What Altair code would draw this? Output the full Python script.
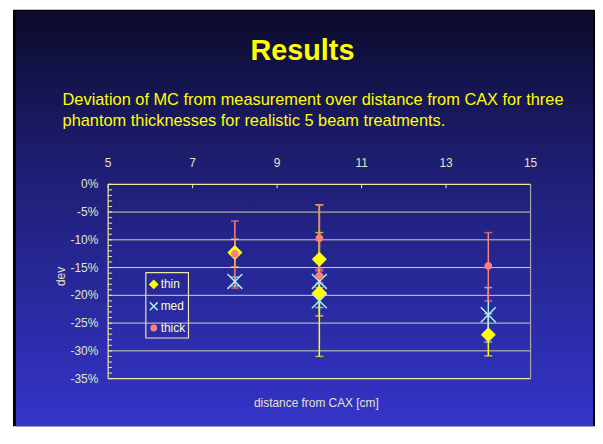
import altair as alt
import pandas as pd

# ---------------- data ----------------
series = ["thin", "med", "thick"]

thin_x = [8, 10, 10, 14]
thin_y = [-12.3, -13.5, -19.6, -27.1]
thin_lo = [-14.9, -23.7, -31.0, -30.9]
thin_hi = [-9.9, -3.7, -8.7, -23.3]

med_x = [8, 10, 10, 14]
med_y = [-17.5, -17.5, -21.0, -23.5]
med_lo = [-18.3, -18.6, -22.2, -28.4]
med_hi = [-16.7, -16.4, -19.8, -18.6]

thick_x = [8, 10, 10, 14]
thick_y = [-12.5, -9.7, -16.5, -14.7]
thick_lo = [-18.7, -15.3, -17.8, -21.0]
thick_hi = [-6.6, -3.7, -15.6, -8.7]

x_ticks = [5, 7, 9, 11, 13, 15]
y_ticks = [0, -5, -10, -15, -20, -25, -30, -35]
y_minor = [0, -1, -2, -3, -4, -5, -6, -7, -8, -9, -10, -11, -12, -13, -14, -15,
           -16, -17, -18, -19, -20, -21, -22, -23, -24, -25, -26, -27, -28, -29,
           -30, -31, -32, -33, -34, -35]
x_range = [5, 15]
y_range = [-35, 0]

title_text = "Results"
subtitle_lines = ["Deviation of MC from measurement over distance from CAX for three",
                  "phantom thicknesses for realistic 5 beam treatments."]
x_title = "distance from CAX [cm]"
y_title = "dev"

# ---------------- styles ----------------
FONT = "Liberation Sans"
AX_COL = "#e4e4c8"
LINE_COL = "#eeee9c"
GRID_COL = "#d6d6aa"
COLORS = {"thin": "#ffff00", "med": "#a8f2f2", "thick": "#ff7f7f"}
X_PATH = "M-1,-1L1,1M1,-1L-1,1"

xs = alt.Scale(domain=x_range, nice=False, zero=False)
ys = alt.Scale(domain=y_range, nice=False, zero=False)
shape_scale = alt.Scale(domain=series, range=["diamond", X_PATH, "circle"])
fill_scale = alt.Scale(domain=series, range=[COLORS["thin"], "transparent", COLORS["thick"]])
stroke_scale = alt.Scale(domain=series, range=[COLORS["thin"], COLORS["med"], COLORS["thick"]])

one = alt.Data(values=[{}])

bg_black = alt.Chart(one).mark_rect(color="black").encode(
    x=alt.value(-96), x2=alt.value(491), y=alt.value(-176), y2=alt.value(244))

bg_grad = alt.Chart(one).mark_rect(
    fill=alt.Gradient(gradient="linear", x1=0, y1=0, x2=0, y2=1,
                      stops=[alt.GradientStop(color="#0b0b2c", offset=0),
                             alt.GradientStop(color="#1d1d6e", offset=0.35),
                             alt.GradientStop(color="#3434ca", offset=1)])
).encode(x=alt.value(-93), x2=alt.value(489), y=alt.value(-175), y2=alt.value(244))

grid = alt.Chart(pd.DataFrame({"v": y_ticks[1:-1]})).mark_rule(color=GRID_COL, strokeWidth=1).encode(
    y=alt.Y("v:Q", scale=ys, axis=None))

hframe = alt.Chart(pd.DataFrame({"v": y_range})).mark_rule(color=LINE_COL, strokeWidth=1.2).encode(
    y=alt.Y("v:Q", scale=ys, axis=None))

left_edge = alt.Chart(pd.DataFrame({"v": x_range[:1]})).mark_rule(color=LINE_COL, strokeWidth=1.2).encode(
    x=alt.X("v:Q", scale=xs, axis=None))

right_edge = alt.Chart(pd.DataFrame({"v": x_range[1:]})).mark_rule(color="#a8a8a8", strokeWidth=1.2).encode(
    x=alt.X("v:Q", scale=xs, axis=None))

minor = alt.Chart(pd.DataFrame({"v": y_minor})).mark_rule(color=LINE_COL, strokeWidth=1).encode(
    y=alt.Y("v:Q", scale=ys, axis=None), x=alt.value(0), x2=alt.value(4))

xt = alt.Chart(pd.DataFrame({"v": x_ticks})).mark_rule(color=LINE_COL, strokeWidth=1).encode(
    x=alt.X("v:Q", scale=xs, axis=None), y=alt.value(0), y2=alt.value(4))

ylabels = alt.Chart(pd.DataFrame({"v": y_ticks})).transform_calculate(
    label="datum.v + '%'").mark_text(
    font=FONT, fontSize=12, color=AX_COL, align="right", baseline="middle").encode(
    y=alt.Y("v:Q", scale=ys, axis=None), x=alt.value(-10), text="label:N")

xlabels = alt.Chart(pd.DataFrame({"v": x_ticks})).mark_text(
    font=FONT, fontSize=12, color=AX_COL, align="center", baseline="middle").encode(
    x=alt.X("v:Q", scale=xs, axis=None), y=alt.value(-21), text="v:Q")


def err_layers(name, xv, lo, hi):
    d = pd.DataFrame({"x": xv, "lo": lo, "hi": hi})
    c = COLORS[name]
    base = alt.Chart(d)
    r = base.mark_rule(color=c, strokeWidth=1.5).encode(
        x=alt.X("x:Q", scale=xs, axis=None), y=alt.Y("lo:Q", scale=ys, axis=None), y2="hi:Q")
    t1 = base.mark_tick(color=c, orient="horizontal", size=8, thickness=1.5).encode(
        x=alt.X("x:Q", scale=xs, axis=None), y=alt.Y("lo:Q", scale=ys, axis=None))
    t2 = base.mark_tick(color=c, orient="horizontal", size=8, thickness=1.5).encode(
        x=alt.X("x:Q", scale=xs, axis=None), y=alt.Y("hi:Q", scale=ys, axis=None))
    return [r, t1, t2]


errs = (err_layers("thin", thin_x, thin_lo, thin_hi)
        + err_layers("med", med_x, med_lo, med_hi)
        + err_layers("thick", thick_x, thick_lo, thick_hi))

pts_df = pd.concat([
    pd.DataFrame({"series": "thin", "x": thin_x, "y": thin_y}),
    pd.DataFrame({"series": "med", "x": med_x, "y": med_y}),
    pd.DataFrame({"series": "thick", "x": thick_x, "y": thick_y}),
], ignore_index=True)

pts = alt.Chart(pts_df).mark_point(opacity=1, strokeWidth=1.5).encode(
    x=alt.X("x:Q", scale=xs, axis=None),
    y=alt.Y("y:Q", scale=ys, axis=None),
    shape=alt.Shape("series:N", scale=shape_scale, legend=None),
    fill=alt.Fill("series:N", scale=fill_scale, legend=None),
    stroke=alt.Stroke("series:N", scale=stroke_scale, legend=None),
    size=alt.Size("series:N", scale=alt.Scale(type="ordinal", domain=series, range=[170, 225, 40]), legend=None),
)

# ----- legend (drawn as marks) -----
leg_df = pd.DataFrame({"series": series})
leg_y = alt.Scale(type="point", domain=series, range=[101, 145], padding=0)

leg_box = alt.Chart(one).mark_rect(fill="transparent", stroke="#e8e8a8", strokeWidth=1.2).encode(
    x=alt.value(38), x2=alt.value(81), y=alt.value(89), y2=alt.value(155))

leg_sym = alt.Chart(leg_df).mark_point(opacity=1, strokeWidth=1.5).encode(
    x=alt.value(46),
    y=alt.Y("series:N", scale=leg_y, axis=None),
    shape=alt.Shape("series:N", scale=shape_scale, legend=None),
    fill=alt.Fill("series:N", scale=fill_scale, legend=None),
    stroke=alt.Stroke("series:N", scale=stroke_scale, legend=None),
    size=alt.Size("series:N", scale=alt.Scale(type="ordinal", domain=series, range=[60, 64, 30]), legend=None),
)

leg_txt = alt.Chart(leg_df).mark_text(
    font=FONT, fontSize=12, color="#ffffcc", align="left", baseline="middle").encode(
    x=alt.value(53), y=alt.Y("series:N", scale=leg_y, axis=None), text="series:N")

# ----- titles -----
title = alt.Chart(one).mark_text(
    text=title_text, font=FONT, fontSize=29, fontWeight="bold", color="#ffff00",
    align="center", baseline="alphabetic").encode(x=alt.value(196), y=alt.value(-125))

subtitle = alt.Chart(one).mark_text(
    text=subtitle_lines, font=FONT, fontSize=16.5, color="#ffff00", lineHeight=21,
    align="left", baseline="alphabetic").encode(x=alt.value(-46), y=alt.value(-80))

xtitle = alt.Chart(one).mark_text(
    text=x_title, font=FONT, fontSize=12, color=AX_COL,
    align="center", baseline="alphabetic").encode(x=alt.value(210), y=alt.value(225))

ytitle = alt.Chart(one).mark_text(
    text=y_title, font=FONT, fontSize=12, color=AX_COL, angle=270,
    align="center", baseline="middle").encode(x=alt.value(-48), y=alt.value(93))

chart = alt.layer(
    bg_black, bg_grad, grid, minor, xt, hframe, left_edge, right_edge,
    *errs, pts, ylabels, xlabels, title, subtitle, xtitle, ytitle,
    leg_box, leg_sym, leg_txt,
).resolve_scale(y="independent", size="independent").properties(
    width=426, height=196,
    padding={"left": 101, "top": 176, "right": 65, "bottom": 48},
    autosize=alt.AutoSizeParams(type="none"),
).configure(background="white").configure_view(stroke=None)

chart.save("out.html", embed_options={"renderer": "svg", "actions": False})
